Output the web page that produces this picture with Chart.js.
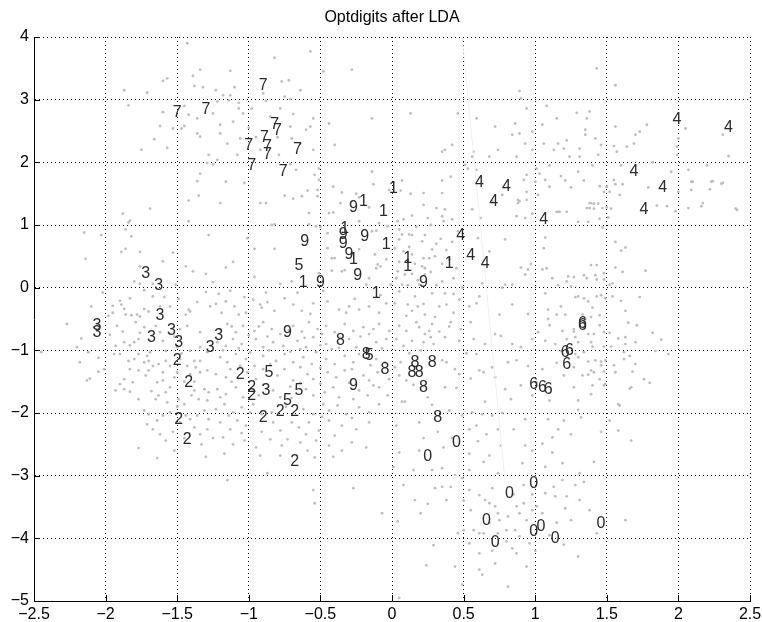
<!DOCTYPE html>
<html><head><meta charset="utf-8">
<script src="https://cdn.jsdelivr.net/npm/chart.js@4/dist/chart.umd.min.js"></script>
<style>html,body{margin:0;padding:0;background:#fff}</style>
</head><body>
<canvas id="c" width="762" height="622"></canvas>
<script>
const chartTitle = 'Optdigits after LDA';
const xTicks = [-2.5,-2,-1.5,-1,-0.5,0,0.5,1,1.5,2,2.5];
const yTicks = [-5,-4,-3,-2,-1,0,1,2,3,4];

// projected samples (grey dots)
const grayPoints = [
[-1.43,3.90],[-0.57,3.77],[-0.82,3.67],[-1.34,3.48],[-1.39,3.38],[-1.13,3.46],[-0.48,3.45],[-0.28,3.48],[-1.57,3.34],[-1.60,3.30],[-1.87,3.15],[-1.71,3.11],[-1.84,2.91],[-1.38,3.22],[-1.32,3.20],[-1.23,3.15],[-1.18,3.07],[-1.13,3.07],[-1.10,3.20],[-1.22,2.97],[-1.14,2.99],[-1.07,2.95],[-1.07,2.86],[-1.04,2.78],[-0.98,2.86],[-0.77,3.29],[-0.72,3.31],[-0.64,3.15],[-0.71,3.01],[-0.88,2.98],[-0.78,2.86],[-0.69,2.77],[-0.71,2.57],[-0.85,2.73],[-0.57,2.57],[-0.44,2.62],[-0.14,2.70],[-1.42,2.76],[-1.36,2.70],[-1.25,2.78],[-1.36,2.46],[-1.34,2.41],[-1.45,2.58],[-1.47,2.54],[-1.53,2.54],[-1.66,2.37],[-1.62,2.58],[-1.11,2.65],[-1.20,2.46],[-1.06,2.38],[-0.70,2.38],[-0.64,2.30],[-1.75,2.20],[-1.57,2.23],[-1.28,2.12],[-1.22,2.04],[-1.08,2.12],[-0.79,2.12],[-0.55,2.20],[-0.40,2.28],[-0.71,1.97],[-0.67,1.88],[-0.51,1.90],[-0.54,1.80],[-1.29,1.99],[-1.25,1.97],[-1.34,1.82],[-0.14,1.85],[-0.41,1.61],[-0.35,1.52],[-0.51,1.72],
[-1.00,2.55],[-0.95,2.40],[-0.92,2.20],[-0.80,2.40],[-0.60,2.52],[-0.55,2.70],[-0.90,3.10],[-0.75,3.05],[-1.15,2.30],[-1.45,2.90],[-1.60,2.80],[-1.20,2.60],
[1.43,3.50],[1.56,3.23],[0.89,3.14],[0.90,3.02],[1.08,2.90],[0.94,2.86],[1.29,2.79],[1.38,2.81],[1.36,2.70],[1.35,2.52],[1.35,2.44],[1.42,2.38],[1.46,2.28],[0.13,2.78],[0.46,2.78],[0.59,2.70],[0.72,2.57],[0.84,2.44],[0.86,2.62],[0.89,2.46],[0.93,2.30],[0.98,2.49],[0.42,2.28],[0.37,2.20],[0.35,2.17],[0.57,2.17],[0.56,2.09],[0.68,2.09],[0.74,2.20],[0.87,2.09],[1.06,2.30],[1.16,2.30],[1.20,2.22],[1.13,2.20],[1.31,2.22],[1.24,2.09],[1.31,2.09],[1.44,2.12],[1.55,2.26],[1.57,2.17],[1.69,2.30],[1.70,2.44],[1.78,2.60],[1.73,2.49],[1.64,2.25],[1.56,2.57],[1.99,2.25],[2.00,2.38],[1.99,2.12],[2.05,2.54],[2.31,2.44],[2.09,1.69],[2.23,1.69],[2.30,1.66],[2.17,1.35],[2.41,1.24],[2.07,1.88],[1.01,1.90],[1.03,1.82],[1.07,1.72],[1.00,1.69],[1.10,1.61],[0.94,1.80],[1.02,1.48],[0.94,1.53],[0.88,1.40],[0.88,1.35],[1.17,1.21],[1.15,1.21],[1.38,1.35],[1.41,1.34],[1.36,1.27],[1.52,1.53],[1.50,1.61],[1.55,1.72],[0.51,1.96],[0.53,1.90],[0.59,1.88],[0.41,1.77],
[1.10,1.95],[1.18,1.78],[1.25,1.60],[1.30,1.85],[1.40,1.95],[1.22,2.35],[1.05,2.60],[1.15,2.70],[0.98,2.20],[1.45,1.10],[1.30,1.05],[1.60,1.95],[1.82,2.00],[1.95,1.85],[2.20,1.95],[2.35,2.10],
[-1.36,1.70],[-1.35,1.47],[-1.42,1.39],[-1.69,1.26],[-1.88,1.18],[-1.83,1.07],[-1.84,1.04],[-1.42,1.06],[-2.15,0.88],[-2.03,0.84],[-1.86,0.93],[-1.82,0.82],[-1.28,0.84],[-1.86,0.62],[-1.89,0.57],[-1.76,0.57],[-1.53,0.56],[-2.14,0.46],[-1.60,0.42],[-1.76,0.34],[-1.44,0.34],[-1.39,0.26],[-1.30,0.22],[-1.80,0.10],[-1.76,0.06],[-1.67,0.06],[-1.51,0.05],[-1.25,0.09],[-1.73,-0.04],[-1.30,-0.07],[-1.67,-0.14],[-1.59,-0.15],[-1.83,-0.17],[-1.90,-0.21],[-1.89,-0.27],[-1.95,-0.29],[-1.55,-0.30],[-1.36,-0.23],[-1.27,-0.30],[-1.87,-0.34],[-1.73,-0.34],[-1.42,-0.35],[-1.95,-0.40],[-1.86,-0.43],[-1.82,-0.44],[-1.78,-0.43],[-1.70,-0.38],[-1.76,-0.46],[-1.44,-0.43],[-1.41,-0.38],
[-2.02,-0.08],[-2.10,-0.30],[-1.98,-0.45],[-1.62,-0.30],[-1.49,-0.18],[-1.21,-0.10],[-1.13,-0.05],[-1.03,-0.15],[-0.88,-0.08],[-0.66,-0.08],[-0.57,-0.42],[-0.48,-0.05],[-0.26,-0.18],[-0.08,-0.12],
[-1.16,1.69],[-1.03,1.67],[-1.20,1.35],[-0.92,1.35],[-0.88,1.35],[-0.75,1.47],[-0.69,1.42],[-0.63,1.46],[-0.59,1.55],[-0.52,1.56],[-0.52,1.46],[-0.58,1.19],[-0.44,1.19],[-0.41,1.20],[-0.36,1.35],[-0.25,1.50],[-0.23,1.44],[-0.16,1.28],[-0.13,1.65],[-0.23,1.06],[-0.09,1.03],[-0.14,0.90],[-0.11,0.91],[-0.03,0.98],[-0.02,1.56],[-1.01,0.79],[-0.82,1.01],[-0.84,1.00],[-0.96,0.62],[-0.82,0.62],[-0.58,1.01],[-0.53,0.98],[-0.50,0.97],[-0.45,0.87],[-0.42,0.47],[-0.40,0.47],[-0.45,0.63],[-0.23,0.61],[-0.12,0.53],[-0.10,0.37],[-0.08,0.34],[-0.04,0.45],[-0.11,0.31],[-1.16,0.32],[-1.11,0.41],[-0.96,0.17],[-0.78,0.06],[-0.70,0.10],[-0.51,0.23],[-0.42,0.27],[-0.35,0.26],[-0.33,0.28],[-0.18,0.05],[-0.16,0.15],[-0.01,0.05],[-1.23,-0.26],[-1.16,-0.22],[-1.10,-0.30],[-1.07,-0.43],[-0.97,-0.19],[-0.92,-0.27],[-0.91,-0.32],[-0.87,-0.23],[-0.82,-0.37],[-0.75,-0.17],[-0.69,-0.27],[-0.63,-0.37],[-0.55,-0.25],[-0.45,-0.22],[-0.37,-0.35],[-0.32,-0.40],[-0.30,-0.30],[-0.23,-0.35],[-0.16,-0.30],[-0.09,-0.40],[-0.04,-0.25],[-1.19,-0.40],[-1.02,-0.40],
[0.07,1.71],[0.06,1.55],[0.13,1.50],[0.22,1.51],[0.35,1.51],[0.35,1.71],[0.22,1.32],[0.31,1.27],[0.37,1.25],[0.14,1.15],[0.25,1.11],[0.35,1.14],[0.36,1.06],[0.42,1.09],[0.08,1.09],[0.04,1.06],[0.05,0.93],[0.07,0.85],[0.12,0.85],[0.14,0.84],[0.23,0.84],[0.21,0.74],[0.05,0.77],[0.02,0.63],[0.34,0.78],[0.42,0.73],[0.28,0.61],[0.08,0.58],[0.14,0.53],[0.22,0.47],[0.26,0.47],[0.30,0.50],[0.05,0.41],[0.16,0.38],[0.21,0.34],[0.23,0.31],[0.35,0.38],[0.45,0.31],[0.04,0.26],[0.09,0.21],[0.14,0.22],[0.23,0.21],[0.35,0.10],[0.43,0.15],[0.07,0.05],[0.11,0.04],[0.19,0.05],[0.31,0.04],[0.49,0.00],[0.05,-0.06],[0.16,-0.14],[0.28,-0.09],[0.37,-0.09],[0.43,-0.10],[0.47,-0.19],[0.02,-0.25],[0.11,-0.27],[0.22,-0.26],[0.33,-0.30],[0.38,-0.27],[0.43,-0.40],[0.14,-0.37],[0.23,-0.43],[0.54,-0.30],[0.61,-0.14],[0.59,-0.25],[0.56,1.25],[0.62,1.11],[0.60,0.79],[0.68,0.58],[0.79,0.77],[0.63,0.07],[0.77,0.00],[0.79,0.05],[0.84,0.05],[0.90,0.32],[0.93,0.21],[0.95,0.29],[0.97,0.38],[0.70,1.38],[0.77,1.48],[0.89,1.38],[0.94,1.40],[0.87,1.14],[0.93,1.11],[0.92,1.72],[1.21,1.71],[1.16,1.21],[1.22,1.21],[0.98,1.18],[1.07,0.80],[1.06,0.63],[1.08,0.31],[1.05,0.29],[1.12,0.15],[1.16,0.04],[1.23,0.18],[1.22,0.10],[1.25,0.02],[1.07,-0.09],[1.09,-0.35],[1.18,-0.30],[1.21,-0.43],[1.15,-0.43],[0.84,-0.27],[0.95,-0.42],[0.75,-0.43],
[0.03,0.15],[0.18,0.12],[0.27,0.25],[0.40,0.45],[0.31,0.70],[0.17,0.97],[0.27,1.00],[0.46,0.90],[0.12,0.65],[0.38,0.60],[0.10,-0.45],[0.30,-0.47],[0.18,-0.30],
[1.34,1.71],[1.45,1.62],[1.48,1.53],[1.56,1.65],[1.61,1.65],[1.59,1.48],[1.79,1.60],[1.39,1.35],[1.41,1.34],[1.38,1.27],[1.41,1.26],[1.44,1.34],[1.47,1.27],[1.50,1.28],[1.53,1.26],[1.51,1.12],[1.37,1.05],[1.47,0.96],[1.85,1.31],[1.92,1.30],[1.98,1.22],[2.00,1.53],[2.10,1.69],[2.09,1.56],[2.24,1.70],[2.31,1.67],[2.22,1.57],[2.07,1.27],[2.16,1.30],[2.40,1.26],[1.56,0.73],[1.63,0.64],[1.60,0.59],[1.39,0.36],[1.43,0.36],[1.56,0.32],[1.61,0.25],[1.77,0.27],[1.48,0.23],[1.27,0.17],[1.34,0.20],[1.36,0.15],[1.42,0.20],[1.43,0.13],[1.48,0.13],[1.52,0.05],[1.54,0.07],[1.28,-0.15],[1.30,-0.14],[1.34,-0.17],[1.37,-0.22],[1.43,-0.14],[1.46,-0.12],[1.49,-0.17],[1.54,-0.14],[1.60,-0.21],[1.40,-0.32],[1.63,-0.37],[1.73,-0.15],[1.33,-0.43],[1.39,-0.47],[1.45,-0.44],
[-2.27,-0.58],[-2.45,-1.03],[-2.17,-0.81],[-2.12,-1.03],[-2.18,-1.19],[-2.13,-1.48],[-2.11,-1.45],[-2.05,-1.34],[-2.01,-1.30],[-1.93,-0.93],[-1.94,-1.06],[-1.90,-1.06],[-1.87,-0.87],[-1.83,-0.92],[-1.80,-0.87],[-1.84,-1.17],[-1.80,-1.14],[-1.77,-1.06],[-1.71,-1.09],[-1.73,-1.19],[-1.70,-1.17],[-1.83,-1.30],[-1.77,-1.32],[-1.70,-1.32],[-1.87,-1.46],[-1.90,-1.54],[-1.81,-1.51],[-1.87,-1.62],[-1.93,-1.64],[-1.83,-1.66],[-1.67,-1.25],[-1.64,-1.51],[-1.60,-1.48],[-1.58,-1.67],[-1.55,-1.59],[-1.65,-1.78],[-1.63,-1.72],[-1.57,-1.83],[-1.73,-1.96],[-1.70,-2.02],[-1.71,-2.18],[-1.67,-2.26],[-1.64,-2.12],[-1.60,-2.04],[-1.55,-1.99],[-1.62,-2.34],[-1.58,-2.44],[-1.77,-2.56],[-1.64,-2.72],[-1.48,-2.15],[-1.44,-2.04],[-1.41,-2.10],[-1.36,-2.04],[-1.31,-1.96],[-1.28,-2.10],[-1.38,-2.23],[-1.34,-2.34],[-1.29,-2.26],[-1.49,-1.78],[-1.45,-1.86],[-1.35,-1.78],[-1.29,-1.80],[-1.31,-1.62],[-1.28,-1.67],[-1.38,-1.64],[-1.50,-1.35],[-1.52,-1.43],[-1.43,-1.25],[-1.37,-1.27],[-1.41,-1.38],[-1.34,-1.35],[-1.29,-1.32],[-1.38,-1.17],[-1.34,-1.17],[-1.48,-1.14],[-1.58,-1.17],[-1.63,-1.22],[-1.55,-1.25],[-1.69,-1.03],[-1.58,-1.01],[-1.50,-0.95],[-1.41,-1.01],[-1.34,-0.95],[-1.29,-1.03],[-1.79,-0.55],[-1.73,-0.63],[-1.65,-0.61],[-1.62,-0.71],[-1.48,-0.66],[-1.43,-0.61],[-1.34,-0.71],[-1.92,-0.61],[-1.77,-0.82],
[-2.20,-0.95],[-2.05,-1.12],[-1.97,-0.75],[-1.88,-0.70],[-1.76,-0.72],[-1.60,-0.85],[-1.52,-0.78],[-1.47,-1.05],[-1.72,-1.40],[-1.60,-1.35],[-1.45,-1.50],[-1.38,-1.50],[-1.77,-1.78],[-1.68,-1.65],[-1.50,-1.90],[-1.40,-1.72],[-1.53,-2.30],[-1.45,-2.40],[-1.33,-2.50],[-1.25,-2.40],[-1.52,-2.60],[-1.30,-2.70],
[-1.20,-0.66],[-1.15,-0.58],[-1.09,-0.71],[-1.04,-0.61],[-0.96,-0.69],[-0.90,-0.55],[-0.84,-0.66],[-0.78,-0.74],[-0.69,-0.61],[-0.63,-0.70],[-0.58,-0.55],[-0.52,-0.66],[-0.46,-0.61],[-0.40,-0.71],[-0.33,-0.58],[-0.27,-0.69],[-0.20,-0.63],[-0.16,-0.74],[-0.09,-0.58],[-0.02,-0.69],
[-1.22,-0.87],[-1.16,-0.93],[-1.11,-0.82],[-1.05,-0.90],[-0.95,-0.82],[-0.90,-0.95],[-0.83,-0.87],[-0.76,-0.93],[-0.66,-0.85],[-0.60,-0.95],[-0.55,-0.79],[-0.46,-0.90],[-0.42,-0.98],[-0.30,-0.82],[-0.25,-0.95],[-0.11,-0.87],[-0.04,-0.82],
[-1.20,-1.11],[-1.15,-1.19],[-1.09,-1.06],[-1.02,-1.14],[-0.96,-1.25],[-0.90,-1.09],[-0.81,-1.17],[-0.75,-1.06],[-0.69,-1.19],[-0.62,-1.11],[-0.56,-1.22],[-0.53,-1.03],[-0.46,-1.14],[-0.40,-1.22],[-0.33,-1.09],[-0.27,-1.19],[-0.23,-1.06],[-0.11,-1.14],[-0.05,-1.19],
[-1.23,-1.38],[-1.16,-1.43],[-1.01,-1.35],[-0.95,-1.46],[-0.80,-1.40],[-0.75,-1.30],[-0.69,-1.48],[-0.59,-1.38],[-0.55,-1.46],[-0.45,-1.35],[-0.39,-1.43],[-0.33,-1.32],[-0.20,-1.40],[-0.16,-1.48],[-0.10,-1.35],[-0.02,-1.46],
[-1.22,-1.62],[-1.16,-1.70],[-1.09,-1.59],[-1.04,-1.75],[-0.83,-1.64],[-0.78,-1.75],[-0.60,-1.62],[-0.55,-1.72],[-0.47,-1.67],[-0.41,-1.59],[-0.37,-1.75],[-0.23,-1.64],[-0.17,-1.72],[-0.09,-1.59],[-0.03,-1.72],
[-1.23,-1.94],[-1.17,-1.86],[-1.11,-1.99],[-1.05,-1.91],[-0.97,-1.86],[-0.84,-1.99],[-0.62,-1.94],[-0.55,-2.02],[-0.48,-1.86],[-0.44,-1.96],[-0.38,-1.88],[-0.32,-2.02],[-0.23,-1.91],[-0.16,-1.99],[-0.09,-1.86],
[-1.20,-2.15],[-1.13,-2.26],[-1.08,-2.12],[-1.02,-2.20],[-0.83,-2.15],[-0.78,-2.28],[-0.70,-2.15],[-0.65,-2.23],[-0.58,-2.15],[-0.51,-2.28],[-0.44,-2.12],[-0.35,-2.20],[-0.25,-2.26],[-0.16,-2.15],
[-1.18,-2.39],[-1.11,-2.50],[-1.03,-2.44],[-0.95,-2.55],[-0.85,-2.42],[-0.77,-2.52],[-0.73,-2.42],[-0.64,-2.47],[-0.59,-2.60],[-0.53,-2.44],[-0.44,-2.52],[-0.35,-2.60],[-0.28,-2.47],[-0.18,-2.55],[-1.17,-2.65],[-0.92,-2.68],[-0.78,-2.68],[-0.54,-2.71],
[-1.12,-0.62],[-1.00,-0.76],[-0.93,-0.62],[-0.87,-0.78],[-0.72,-0.68],[-0.61,-0.80],[-0.49,-0.74],[-0.36,-0.80],[-0.22,-0.78],[-0.13,-0.66],
[-1.18,-1.00],[-1.07,-0.97],[-0.99,-1.03],[-0.86,-1.00],[-0.71,-1.02],[-0.64,-0.98],[-0.50,-0.92],[-0.37,-0.96],[-0.18,-1.00],[-0.07,-0.97],
[-1.13,-1.30],[-1.06,-1.25],[-0.90,-1.30],[-0.85,-1.22],[-0.64,-1.27],[-0.50,-1.28],[-0.28,-1.30],[-0.15,-1.24],
[-1.12,-1.50],[-0.90,-1.55],[-0.71,-1.58],[-0.64,-1.52],[-0.50,-1.53],[-0.30,-1.52],[-0.13,-1.56],[-1.20,-1.75],[-0.93,-1.72],[-0.70,-1.76],[-0.27,-1.78],
[-1.14,-2.04],[-0.99,-1.99],[-0.91,-2.02],[-0.74,-1.90],[-0.49,-2.06],[-0.28,-2.08],[-1.05,-2.32],[-0.91,-2.30],[-0.60,-2.34],[-0.40,-2.36],
[-1.15,-3.07],[-0.87,-2.96],[-0.55,-3.23],[-0.54,-3.44],[-0.27,-3.20],[-0.41,-2.70],
[0.05,-0.61],[0.10,-0.69],[0.17,-0.55],[0.19,-0.63],[0.23,-0.74],[0.26,-0.69],[0.28,-0.58],[0.27,-0.79],[0.22,-0.87],[0.14,-0.85],[0.03,-0.82],[0.08,-0.93],[0.29,-0.90],[0.37,-0.79],[0.41,-0.55],[0.48,-0.66],[0.55,-0.55],[0.57,-0.82],[0.65,-0.90],[0.72,-0.74],[0.76,-0.77],[0.84,-0.90],[0.90,-0.95],[0.98,-0.82],[1.09,-0.50],[1.02,-0.71],[1.07,-0.85],[1.14,-0.90],[1.18,-1.01],[0.06,-1.19],[0.02,-1.27],[0.05,-1.40],[0.10,-1.48],[0.35,-1.16],[0.38,-1.19],[0.44,-1.30],[0.47,-1.38],[0.37,-1.59],[0.59,-1.06],[0.64,-1.35],[0.61,-1.32],[0.70,-1.27],[0.81,-1.19],[0.87,-1.16],[0.72,-1.43],[0.79,-1.62],[0.90,-1.56],[0.83,-1.78],[0.65,-1.82],[0.98,-1.72],[1.01,-1.51],[0.09,-1.82],[0.07,-1.82],[0.28,-1.87],[0.40,-1.96],[0.49,-2.04],[0.56,-1.99],[0.63,-2.02],[0.70,-2.04],[0.77,-2.00],[0.93,-2.10],[1.09,-2.10],[1.16,-2.26],[1.20,-2.12],[0.19,-2.15],[0.03,-2.20],[0.54,-2.26],[0.59,-2.20],[0.66,-2.34],[0.74,-2.26],[0.85,-2.26],[0.76,-2.52],[0.93,-2.52],[0.98,-2.60],[1.05,-2.49],[1.12,-2.63],[0.54,-2.65],[0.68,-2.68],[0.36,-2.55],[0.05,-2.63],[0.19,-2.60],[1.12,-2.39],[1.19,-0.69],[1.22,-0.82],
[0.40,-0.62],[0.33,-0.70],[0.12,-1.05],[0.20,-1.00],[0.47,-0.85],[0.52,-1.05],[0.25,-1.75],[0.15,-1.55],[0.45,-1.60],[0.55,-1.45],[0.32,-2.30],[0.42,-2.40],[0.60,-2.45],[0.22,-2.40],
[1.10,-0.60],[1.15,-1.20],[1.20,-1.40],[1.10,-1.80],[0.95,-1.25],[1.05,-1.30],[1.35,-0.50],[1.45,-0.60],
[1.27,-0.66],[1.27,-0.70],[1.28,-0.79],[1.30,-0.87],[1.28,-1.06],[1.30,-1.11],[1.27,-1.27],[1.37,-0.74],[1.41,-0.74],[1.48,-0.71],[1.52,-0.72],[1.39,-0.87],[1.40,-0.94],[1.48,-0.94],[1.53,-0.94],[1.58,-0.81],[1.63,-0.79],[1.65,-0.56],[1.71,-0.60],[1.70,-0.87],[1.63,-0.90],[1.62,-1.03],[1.66,-1.09],[1.62,-1.14],[1.82,-0.72],[1.88,-0.83],[1.84,-1.01],[1.93,-1.06],[1.34,-1.03],[1.37,-1.18],[1.42,-1.16],[1.46,-1.18],[1.46,-1.24],[1.49,-1.16],[1.55,-1.24],[1.70,-1.22],[1.68,-1.34],[1.39,-1.32],[1.41,-1.35],[1.48,-1.34],[1.33,-1.40],[1.37,-1.39],[1.45,-1.46],[1.48,-1.56],[1.40,-1.56],[1.27,-1.59],[1.39,-1.70],[1.49,-1.54],[1.56,-1.35],[1.76,-1.46],[1.80,-1.52],[1.66,-1.61],[1.67,-1.59],[1.30,-1.80],[1.30,-1.95],[1.58,-1.86],[1.59,-1.88],[1.32,-2.07],[1.52,-2.12],[1.46,-2.30],[1.58,-2.28],[1.67,-2.44],[1.25,-2.34],
[0.54,-3.23],[0.61,-3.31],[0.65,-3.39],[0.68,-3.44],[0.72,-3.49],[0.74,-3.60],[0.75,-3.71],[0.81,-3.65],[0.87,-3.49],[0.92,-3.44],[0.89,-3.60],[0.94,-3.71],[1.01,-3.49],[1.07,-3.28],[1.13,-3.18],[1.19,-3.07],[1.22,-3.33],[1.28,-3.15],[1.34,-3.10],[1.31,-3.39],[1.38,-3.55],[1.43,-3.92],[1.63,-3.71],[1.14,-3.33],[1.21,-3.52],[0.86,-3.87],[0.89,-3.97],[0.96,-4.08],[0.84,-4.16],[0.87,-4.24],[0.94,-4.45],[0.81,-4.77],[0.61,-4.50],[0.63,-4.58],[0.49,-4.74],[0.44,-4.45],[0.46,-3.92],[0.50,-3.87],[0.57,-3.87],[0.61,-3.92],[0.74,-3.92],[0.80,-3.87],[0.54,-4.08],[0.61,-4.24],[0.72,-4.40],[0.64,-3.92],[1.30,-4.29],[1.25,-3.71],[1.31,-2.96],[1.41,-2.78],[0.04,-3.73],[0.20,-3.60],[0.29,-4.11],[0.24,-4.43],[0.16,-3.39],[0.08,-3.15],[0.35,-3.18],[0.38,-3.39],[0.41,-3.18],[0.44,-2.99],[0.49,-3.04],[0.54,-2.91],[0.01,-2.86],[-0.07,-3.60],[0.28,-2.91],[0.15,-2.91],[0.35,-2.88],[0.74,-2.96],[0.92,-3.15],[1.07,-2.86],[1.19,-2.80],[0.64,-2.78],[0.91,-2.80],[0.05,-4.95],
[0.70,-3.20],[0.85,-3.30],[0.98,-3.30],[1.05,-3.60],[1.15,-3.75],[1.10,-3.95],[0.98,-3.55],[0.55,-3.55],[0.68,-3.75],[0.80,-4.05],[0.70,-4.20],[1.00,-4.20],[1.20,-4.10],[0.50,-3.40],[0.30,-3.20],[0.25,-3.45]
];

// digit class labels written at sample positions
const digitText = ['7','7','7','7','7','7','7','7','7','7','7','7',
 '9','1','1','9','9','9','9','9','1','5','9','1','9','1','1','1','1','1','1','1','9',
 '4','4','4','4','4','4','4','4','4','4','4','4',
 '3','3','3','3','3','3','3','3','3','3','3',
 '9','8','8','5',
 '2','2','2','2','2','2','2','2','2','2','2',
 '5','5','5','9',
 '8','8','8','8','8','8','8',
 '0','0','0','0','0','0','0','0','0','0',
 '6','6','6','6','6','6','6','6'];
const digitX = [-0.90,-1.50,-1.30,-0.82,-0.80,-0.89,-1.00,-0.87,-0.87,-0.66,-0.98,-0.76,
 -0.27,-0.20,-0.33,-0.34,-0.34,-0.19,-0.61,-0.30,-0.27,-0.65,-0.24,-0.62,-0.50,-0.11,0.01,-0.06,-0.04,0.11,0.11,0.40,0.22,
 1.99,2.35,0.61,0.80,0.71,1.69,1.89,1.76,1.06,0.48,0.55,0.65,
 -1.72,-1.63,-1.62,-2.06,-2.06,-1.68,-1.54,-1.49,-1.21,-1.27,-0.88,
 -0.73,-0.36,-0.18,-0.16,
 -1.50,-1.42,-1.06,-0.98,-0.98,-0.78,-0.68,-0.90,-1.49,-1.43,-0.68,
 -0.86,-0.65,-0.73,-0.27,
 -0.05,0.16,0.14,0.19,0.28,0.22,0.32,
 0.45,0.25,0.99,0.82,0.66,1.04,0.99,1.14,0.72,1.46,
 1.33,1.33,1.21,1.24,1.22,0.99,1.05,1.09];
const digitY = [3.23,2.80,2.84,2.60,2.50,2.39,2.26,2.25,2.12,2.20,1.94,1.85,
 1.27,1.37,0.94,0.84,0.71,0.81,0.73,0.52,0.44,0.35,0.19,0.08,0.08,-0.09,1.58,1.21,0.68,0.47,0.33,0.39,0.08,
 2.68,2.55,1.67,1.62,1.38,1.85,1.59,1.24,1.08,0.83,0.51,0.38,
 0.23,0.04,-0.44,-0.61,-0.72,-0.79,-0.69,-0.88,-0.76,-0.96,-1.65,
 -0.71,-0.85,-1.07,-1.09,
 -1.17,-1.52,-1.39,-1.59,-1.73,-1.98,-1.97,-2.08,-2.10,-2.42,-2.78,
 -1.35,-1.65,-1.81,-1.57,
 -1.31,-1.19,-1.36,-1.36,-1.20,-1.59,-2.08,
 -2.48,-2.70,-3.12,-3.28,-3.72,-3.82,-3.90,-4.01,-4.07,-3.76,
 -0.60,-0.58,-1.04,-1.01,-1.22,-1.55,-1.60,-1.62];

// faint stray line in the figure
const faintLine = [[0.49,4.0],[0.79,-3.1]];

const FONT = "'Liberation Sans', Arial, Helvetica, sans-serif";
const fmt = v => (v < 0 ? '\u2212' : '') + String(Math.abs(v));

const digitPlugin = {
  id: 'digits',
  afterDatasetsDraw(chart) {
    const meta = chart.getDatasetMeta(2);
    const ctx = chart.ctx;
    ctx.save();
    ctx.font = '16px ' + FONT;
    ctx.fillStyle = '#2a2a2a';
    ctx.textAlign = 'center';
    ctx.textBaseline = 'middle';
    meta.data.forEach((el, i) => { ctx.fillText(digitText[i], el.x, el.y); });
    ctx.restore();
  }
};
const innerTicks = {
  id: 'innerTicks',
  afterDraw(chart) {
    const {ctx, chartArea, scales} = chart;
    ctx.save();
    ctx.strokeStyle = '#000'; ctx.lineWidth = 1;
    ctx.beginPath();
    xTicks.forEach(v => { const p = Math.round(scales.x.getPixelForValue(v)) + 0.5; ctx.moveTo(p, chartArea.bottom); ctx.lineTo(p, chartArea.bottom - 6); });
    yTicks.forEach(v => { const p = Math.round(scales.y.getPixelForValue(v)) + 0.5; ctx.moveTo(chartArea.left, p); ctx.lineTo(chartArea.left + 6, p); });
    ctx.stroke();
    ctx.restore();
  }
};

new Chart(document.getElementById('c'), {
  type: 'scatter',
  data: {
    datasets: [
      { data: faintLine.map(p => ({x: p[0], y: p[1]})), showLine: true, borderColor: '#f0f0f0', borderWidth: 1, pointRadius: 0 },
      { data: grayPoints.map(p => ({x: p[0], y: p[1]})), backgroundColor: '#bfbfbf', borderWidth: 0, pointRadius: 1.4 },
      { data: digitX.map((x, i) => ({x: x, y: digitY[i]})), pointRadius: 0, backgroundColor: 'rgba(0,0,0,0)' }
    ]
  },
  options: {
    responsive: false, animation: false, devicePixelRatio: 1,
    layout: { padding: { left: 0, right: 12, top: 0, bottom: 0 } },
    plugins: {
      legend: { display: false }, tooltip: { enabled: false },
      title: { display: true, text: chartTitle, fullSize: false, color: '#000',
               font: { family: FONT, size: 16, weight: 'normal', lineHeight: 1.2 },
               padding: { top: 8, bottom: 9.8 } }
    },
    scales: {
      x: { type: 'linear', min: -2.5, max: 2.5,
           afterBuildTicks: s => { s.ticks = xTicks.map(v => ({value: v})); },
           afterFit: s => { s.height = 21; s.paddingLeft = 0; s.paddingRight = 0; },
           ticks: { callback: v => fmt(v), color: '#000', padding: 4, maxRotation: 0, autoSkip: false, font: { family: FONT, size: 16 } },
           grid: { color: '#000', lineWidth: 1, drawTicks: false },
           border: { display: true, color: '#000', width: 1, dash: [1, 3] } },
      y: { type: 'linear', min: -5, max: 4,
           afterBuildTicks: s => { s.ticks = yTicks.map(v => ({value: v})); },
           afterFit: s => { s.width = 34; s.paddingTop = 0; s.paddingBottom = 0; },
           ticks: { callback: v => fmt(v), color: '#000', padding: 5, autoSkip: false, font: { family: FONT, size: 16 } },
           grid: { color: '#000', lineWidth: 1, drawTicks: false },
           border: { display: true, color: '#000', width: 1, dash: [1, 3] } }
    }
  },
  plugins: [digitPlugin, innerTicks]
});
</script>
</body></html>
